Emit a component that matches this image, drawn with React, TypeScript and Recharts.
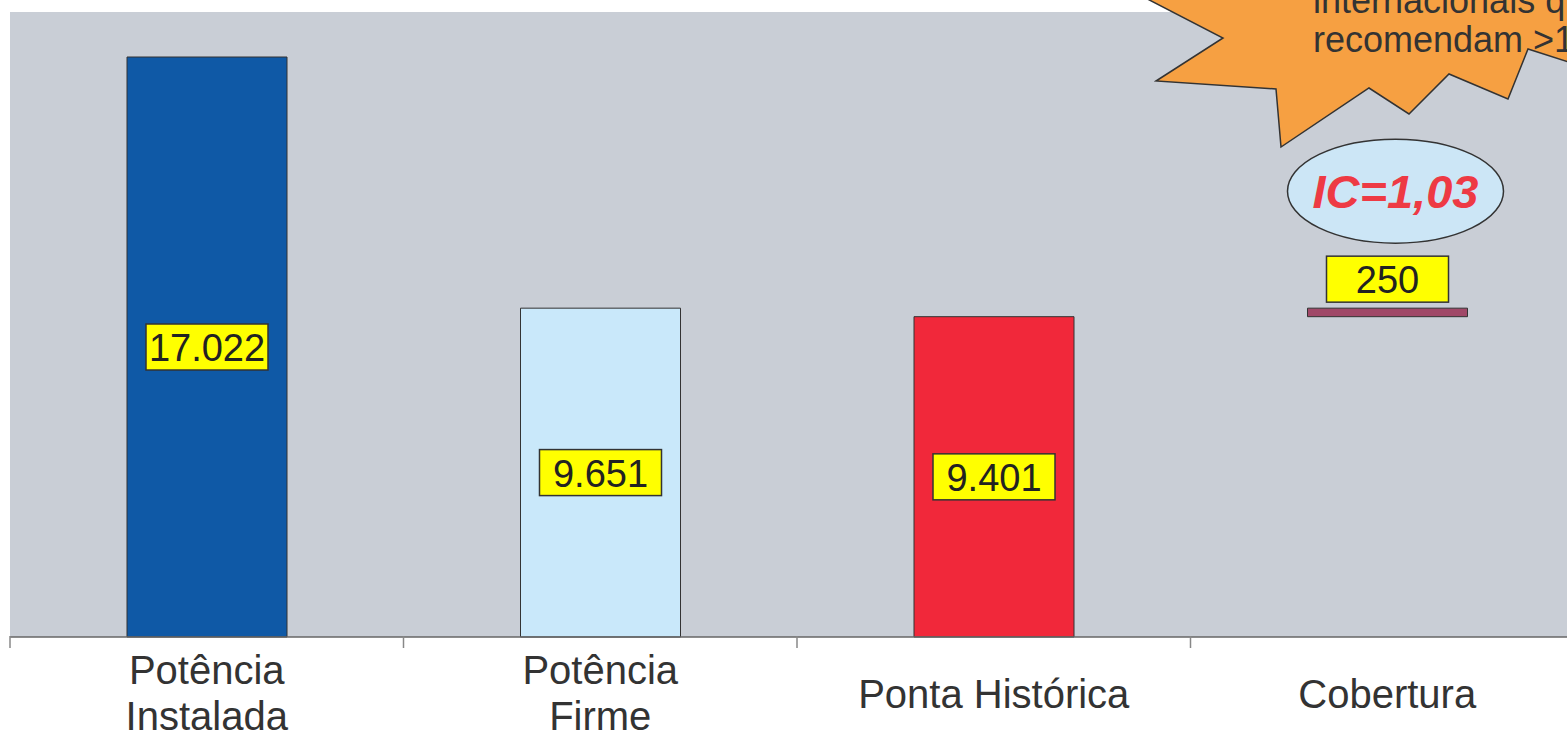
import { Bar, BarChart, CartesianGrid, Cell, LabelList, XAxis, YAxis } from "recharts";

const categories = ["Potência Instalada", "Potência Firme", "Ponta Histórica", "Cobertura"];
const categoryLines = [["Potência", "Instalada"], ["Potência", "Firme"], ["Ponta Histórica"], ["Cobertura"]];
const values = [17022, 9651, 9401, 250];
// Cobertura flutua sobre a ponta histórica (diferença entre firme e ponta)
const bases = [0, 0, 0, 9401];
const barColors = ["#0f59a6", "#c9e8fa", "#f1283a", "#a04868"];
const ratioText = "IC=1,03";
const burstText = ["internacionais que", "recomendam >1"];

const FONT = "'Liberation Sans', Arial, sans-serif";

function formatBR(n: number): string {
  return String(n).replace(/\B(?=(\d{3})+(?!\d))/g, ".");
}

const chartData = categories.map((name, i) => ({ name, base: bases[i], value: values[i] }));

function CategoryTick(props: any) {
  const { x, y, payload, index } = props;
  const lines = categoryLines[index] ?? [payload.value];
  const half = payload.offset ?? 0;
  const startY = lines.length > 1 ? y + 39 : y + 63;
  return (
    <g>
      <line x1={x - half} x2={x - half} y1={y - 9} y2={y + 3} stroke="#888" strokeWidth={1.5} />
      <text x={x} y={startY} textAnchor="middle" fontFamily={FONT} fontSize={40} fill="#333">
        {lines.map((l: string, i: number) => (
          <tspan key={i} x={x} dy={i === 0 ? 0 : 46}>
            {l}
          </tspan>
        ))}
      </text>
    </g>
  );
}

function ValueBox(props: any) {
  const { x, y, width, height, value, index } = props;
  const label = formatBR(value);
  const boxW = 122;
  const boxH = 46;
  const cx = x + width / 2;
  const floating = bases[index] > 0;
  const cy = floating ? y - 6 - boxH / 2 : y + height / 2;
  return (
    <g>
      {floating && (
        <g>
          <ellipse cx={cx + 8} cy={cy - 88} rx={108} ry={52} fill="#cce6f6" stroke="#333" strokeWidth={1.5} />
          <text
            x={cx + 8}
            y={cy - 88 + 17}
            textAnchor="middle"
            fontFamily={FONT}
            fontSize={47}
            fontWeight="bold"
            fontStyle="italic"
            fill="#ee3a44"
          >
            {ratioText}
          </text>
        </g>
      )}
      <rect x={cx - boxW / 2} y={cy - boxH / 2} width={boxW} height={boxH} fill="#ffff00" stroke="#333" strokeWidth={1.5} />
      <text x={cx} y={cy + 14} textAnchor="middle" fontFamily={FONT} fontSize={38} fill="#222">
        {label}
      </text>
    </g>
  );
}

const burstPoints =
  "1130,-10 1223,38 1156,81 1276,89 1281,147 1369,88 1409,114 1449,74 1508,99 1528,49 1600,72 1600,-10";

export default function App() {
  return (
    <div style={{ position: "absolute", left: 0, top: 0, width: 1567, height: 730, overflow: "hidden", background: "#fff" }}>
      <BarChart
        width={1600}
        height={730}
        data={chartData}
        margin={{ top: 12, right: 16, left: 10, bottom: 0 }}
      >
        <CartesianGrid fill="#c9ced6" horizontal={false} vertical={false} />
        <XAxis xAxisId="top" orientation="top" dataKey="name" height={0} tick={false} tickLine={false} axisLine={{ stroke: "#7a7a7a", strokeWidth: 1.5 }} />
        <XAxis
          dataKey="name"
          height={93}
          interval={0}
          tickLine={false}
          axisLine={{ stroke: "#666", strokeWidth: 1.5 }}
          tick={<CategoryTick />}
        />
        <YAxis width={0} domain={[0, 18343]} tick={false} tickLine={false} axisLine={{ stroke: "#7a7a7a", strokeWidth: 1.5 }} />
        <Bar dataKey="base" stackId="a" fill="transparent" barSize={160} isAnimationActive={false} />
        <Bar dataKey="value" stackId="a" barSize={160} stroke="#333" strokeWidth={1} isAnimationActive={false}>
          {chartData.map((d, i) => (
            <Cell key={d.name} fill={barColors[i]} />
          ))}
          <LabelList dataKey="value" content={<ValueBox />} />
        </Bar>
      </BarChart>
      <svg width={1567} height={730} style={{ position: "absolute", left: 0, top: 0, pointerEvents: "none" }}>
        <polygon points={burstPoints} fill="#f6a042" stroke="#333" strokeWidth={1.5} />
        <text fontFamily={FONT} fontSize={36} fill="#333">
          <tspan x={1313} y={13}>{burstText[0]}</tspan>
          <tspan x={1313} y={52}>{burstText[1]}</tspan>
        </text>
      </svg>
    </div>
  );
}
